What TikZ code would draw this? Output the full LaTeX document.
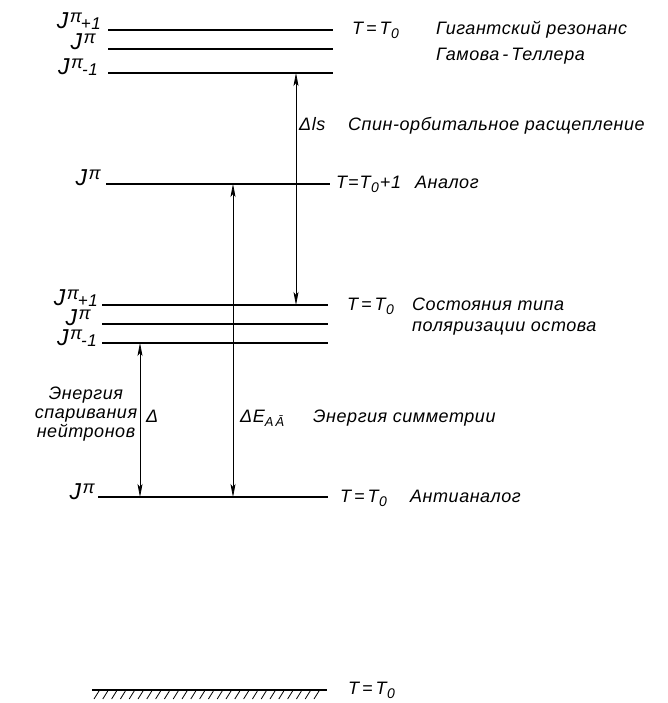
\documentclass[tikz,border=0pt]{standalone}
\usepackage{fontspec}
\setmainfont{Liberation Sans}[LetterSpace=3]
\usetikzlibrary{arrows.meta}
% T = T_0 and its variants
\newcommand\subz{\raisebox{-4pt}{\fontsize{14}{14}\selectfont 0}}
\newcommand\TeqT{T\,=\,T\kern0.5pt\subz}
\newcommand\TeqTone{T\kern1pt=\kern1pt T\kern0.5pt\subz\kern1pt+1}
\newcommand\Jpi{J\kern1.5pt\raisebox{6pt}{\fontsize{18}{18}\selectfont π}}
\newcommand\Jplus{\Jpi\kern-1pt\raisebox{-1pt}{\fontsize{17}{17}\selectfont +1}}
\newcommand\Jminus{\Jpi\kern-1pt\raisebox{-1pt}{\fontsize{17}{17}\selectfont -1}}
\begin{document}
\begin{tikzpicture}[x=1pt,y=-1pt,
  level/.style={line width=1.7pt},
  gap/.style={line width=0.7pt,
    {Stealth[length=13pt,width=5pt,inset=3pt]}-{Stealth[length=13pt,width=5pt,inset=3pt]}},
  txt/.style={font=\fontsize{18}{20}\selectfont\itshape, inner sep=0pt, anchor=base west},
  jlab/.style={font=\fontsize{23}{24}\selectfont\itshape, inner sep=0pt, anchor=base east},
  hatch/.style={line width=0.8pt},
]
\useasboundingbox (0,0) rectangle (668,703);

% Gamow-Teller giant resonance triplet
\draw[level] (108,30) coordinate (g1a) -- (333,30) coordinate (g1b);
\draw[level] (108,49) coordinate (g2a) -- (333,49) coordinate (g2b);
\draw[level] (108,73) coordinate (g3a) -- (333,73) coordinate (g3b);
\node[jlab] (jg1) at (101,29) {\Jplus};
\node[jlab] (jg2) at (96,50) {\Jpi};
\node[jlab] (jg3) at (98,75) {\Jminus};
\node[txt] (tg) at (352,35) {\TeqT};
\node[txt] (gt1) at (436,35) {Гигантский резонанс};
\node[txt] (gt2) at (436,61) {Гамова\,-\,Теллера};

% analog state
\draw[level] (106,184) coordinate (ana) -- (330,184) coordinate (anb);
\node[jlab] (ja) at (101,186) {\Jpi};
\node[txt] (ta) at (336,189) {\TeqTone};
\node[txt] (an) at (415,189) {Аналог};

% core-polarisation triplet
\draw[level] (102,305) coordinate (c1a) -- (328,305) coordinate (c1b);
\draw[level] (102,324) coordinate (c2a) -- (328,324) coordinate (c2b);
\draw[level] (102,343) coordinate (c3a) -- (328,343) coordinate (c3b);
\node[jlab] (jc1) at (98,305) {\Jplus};
\node[jlab] (jc2) at (91,325) {\Jpi};
\node[jlab] (jc3) at (97,345) {\Jminus};
\node[txt] (tc) at (347,310) {\TeqT};
\node[txt] (cp1) at (412,310) {Состояния типа};
\node[txt] (cp2) at (412,331) {поляризации остова};

% antianalog state
\draw[level] (98,497) coordinate (aaa) -- (328,497) coordinate (aab);
\node[jlab] (jaa) at (95,499) {\Jpi};
\node[txt] (taa) at (340,502) {\TeqT};
\node[txt] (aa) at (410,502) {Антианалог};

% reference level (hatched)
\draw[level] (92,690) coordinate (ra) -- (327,690) coordinate (rb);
\foreach \x in {95,103.8,...,322} \draw[hatch] (\x+4,691) -- (\x-1,699);
\node[txt] (tr) at (348,694) {\TeqT};

% energy gaps
\coordinate (ls1) at (296,73);  \coordinate (ls2) at (296,305);
\coordinate (ea1) at (233,184); \coordinate (ea2) at (233,497);
\coordinate (dp1) at (140,343); \coordinate (dp2) at (140,497);
\draw[gap] (ls2) -- (ls1);
\draw[gap] (ea2) -- (ea1);
\draw[gap] (dp2) -- (dp1);

\node[txt] (dls) at (299,131) {Δls};
\node[txt] (so) at (348,131) {Спин-орбитальное расщепление};
\node[txt] (dd) at (146,422) {Δ};
\node[txt] (dea) at (240,422) {ΔE\raisebox{-4pt}{\fontsize{13}{13}\selectfont A\,\=A}};
\node[txt] (sym) at (313,422) {Энергия симметрии};
\node[txt, anchor=base] (p1) at (86,399) {Энергия};
\node[txt, anchor=base] (p2) at (86,418) {спаривания};
\node[txt, anchor=base] (p3) at (86,437) {нейтронов};
\end{tikzpicture}
\end{document}
